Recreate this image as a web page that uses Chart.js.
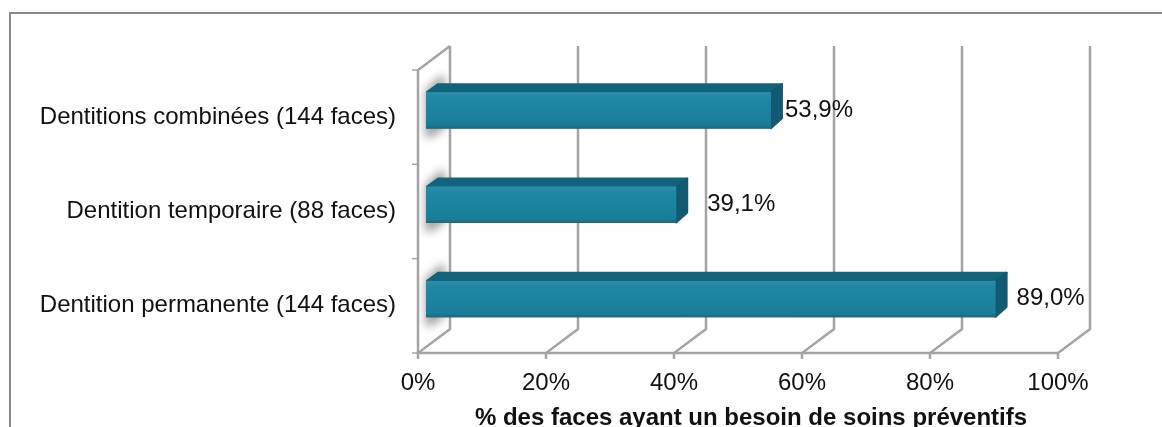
<!DOCTYPE html>
<html>
<head>
<meta charset="utf-8">
<style>
  html, body { margin: 0; padding: 0; background: #fff; }
  #wrap { width: 1162px; height: 427px; overflow: hidden; }
</style>
<script src="https://cdn.jsdelivr.net/npm/chart.js@4/dist/chart.umd.js"></script>
</head>
<body>
<div id="wrap"><canvas id="myChart" width="1162" height="427"></canvas></div>
<script>
const categories = ['Dentitions combinées (144 faces)', 'Dentition temporaire (88 faces)', 'Dentition permanente (144 faces)'];
const values = [53.9, 39.1, 89.0];
const valueLabels = ['53,9%', '39,1%', '89,0%'];
const axisTitle = '% des faces ayant un besoin de soins préventifs';

// how far the excel labels sit from the end of the bar
const labelShift = [14, 31, 21];

const fontName = '"Liberation Sans", Arial, sans-serif';
const wallX = 32, wallY = -24;      // depth of the 3d box
const barDx = 12, barDy = -9;       // depth of the bars
const barMoveX = 8, barMoveY = -7;  // bars float a bit inside the box
const gridColor = '#a4a4a4';

const walls = {
    id: 'walls',
    beforeDatasetsDraw(chart) {
        const c = chart.ctx, a = chart.chartArea, x = chart.scales.x;
        c.save();
        c.filter = 'blur(0.4px)';
        c.strokeStyle = gridColor;
        c.lineWidth = 2.5;
        x.ticks.forEach(function(t) {
            const px = x.getPixelForValue(t.value);
            c.beginPath();
            c.moveTo(px, a.bottom + 6);
            c.lineTo(px, a.bottom);
            c.lineTo(px + wallX, a.bottom + wallY);
            c.lineTo(px + wallX, a.top + wallY);
            c.stroke();
        });
        c.beginPath();
        c.moveTo(a.right, a.bottom);
        c.lineTo(a.left, a.bottom);
        c.lineTo(a.left, a.top);
        c.lineTo(a.left + wallX, a.top + wallY);
        c.stroke();
        const band = (a.bottom - a.top) / categories.length;
        c.lineWidth = 1.5;
        for (let i = 0; i <= categories.length; i++) {
            c.beginPath();
            c.moveTo(a.left - 6, a.top + i * band);
            c.lineTo(a.left, a.top + i * band);
            c.stroke();
        }
        c.restore();

        // soft shadow behind the left end of the bars
        const meta = chart.getDatasetMeta(0);
        meta.data.forEach(function(bar) {
            const h = bar.height, top = bar.y - h / 2 + barMoveY;
            const left = bar.base + barMoveX;
            c.save();
            c.filter = 'blur(4px)';
            c.fillStyle = '#a6a6a6';
            c.beginPath();
            c.moveTo(left - 1, top - 2);
            c.lineTo(left + 15, top + barDy - 8);
            c.lineTo(left + 19, top + barDy - 6);
            c.lineTo(left + 19, top + h);
            c.lineTo(left + 6, top + h + 9);
            c.lineTo(left - 1, top + h + 9);
            c.closePath();
            c.fill();
            c.restore();
        });
        c.save();
        c.translate(barMoveX, barMoveY);
    },
    afterDatasetsDraw(chart) {
        const c = chart.ctx, meta = chart.getDatasetMeta(0);
        meta.data.forEach(function(bar) {
            const top = bar.y - bar.height / 2, bot = bar.y + bar.height / 2;
            const l = bar.base, r = bar.x;

            // top and end faces first, rounded joins hide the hard corners
            c.lineJoin = 'round';
            c.lineWidth = 2;
            c.fillStyle = '#12647c';
            c.strokeStyle = '#12647c';
            c.beginPath();
            c.moveTo(l + 1, top);
            c.lineTo(l + barDx, top + barDy + 1);
            c.lineTo(r + barDx - 1, top + barDy + 1);
            c.lineTo(r, top);
            c.closePath();
            c.fill();
            c.stroke();

            c.fillStyle = '#115a72';
            c.strokeStyle = '#115a72';
            c.beginPath();
            c.moveTo(r, top);
            c.lineTo(r + barDx - 1, top + barDy + 1);
            c.lineTo(r + barDx - 1, bot + barDy - 1);
            c.lineTo(r, bot);
            c.closePath();
            c.fill();
            c.stroke();

            // front face shading
            const g = c.createLinearGradient(0, top, 0, bot);
            g.addColorStop(0, '#2a8fa9');
            g.addColorStop(0.18, '#1f86a3');
            g.addColorStop(0.88, '#1a7e9a');
            g.addColorStop(1, '#166f88');
            c.fillStyle = g;
            c.fillRect(l, top, r - l, bot - top);

            c.strokeStyle = '#3a5f6c';
            c.lineWidth = 1;
            c.beginPath();
            c.moveTo(l, bot);
            c.lineTo(r, bot);
            c.lineTo(r + barDx - 1, bot + barDy);
            c.stroke();
        });
        c.restore();

        // value labels
        c.save();
        c.font = '24px ' + fontName;
        c.fillStyle = '#111';
        c.textAlign = 'left';
        c.textBaseline = 'middle';
        meta.data.forEach(function(bar, i) {
            c.fillText(valueLabels[i], bar.x + barMoveX + labelShift[i], bar.y + barMoveY);
        });

        // axis title sits right of the axis centre and runs into the bottom edge
        c.font = 'bold 24px ' + fontName;
        c.textAlign = 'center';
        c.textBaseline = 'alphabetic';
        c.fillText(axisTitle, 751, 425);
        c.restore();

        // frame of the picture, open at the bottom and right
        c.save();
        c.strokeStyle = '#8a8a8a';
        c.lineWidth = 2;
        c.beginPath();
        c.moveTo(10, 427);
        c.lineTo(10, 13);
        c.lineTo(1162, 13);
        c.stroke();
        c.restore();
    }
};

new Chart(document.getElementById('myChart'), {
    type: 'bar',
    data: {
        labels: categories,
        datasets: [{
            data: values,
            backgroundColor: '#1b809c',
            borderWidth: 0,
            barThickness: 36
        }]
    },
    options: {
        indexAxis: 'y',
        responsive: false,
        animation: false,
        layout: { padding: { top: 70, right: 104, bottom: 0, left: 0 } },
        plugins: { legend: { display: false }, tooltip: { enabled: false } },
        scales: {
            x: {
                min: 0,
                max: 100,
                grid: { display: false },
                border: { display: false },
                afterFit(scale) { scale.height = 74; },
                ticks: {
                    stepSize: 20,
                    padding: 8,
                    maxRotation: 0,
                    color: '#111',
                    font: { family: fontName, size: 24 },
                    callback: function(v) { return v + '%'; }
                }
            },
            y: {
                grid: { display: false },
                border: { display: false },
                afterFit(scale) { scale.width = 418; },
                ticks: {
                    padding: 14,
                    autoSkip: false,
                    color: '#111',
                    font: { family: fontName, size: 24 }
                }
            }
        }
    },
    plugins: [walls]
});
</script>
</body>
</html>
